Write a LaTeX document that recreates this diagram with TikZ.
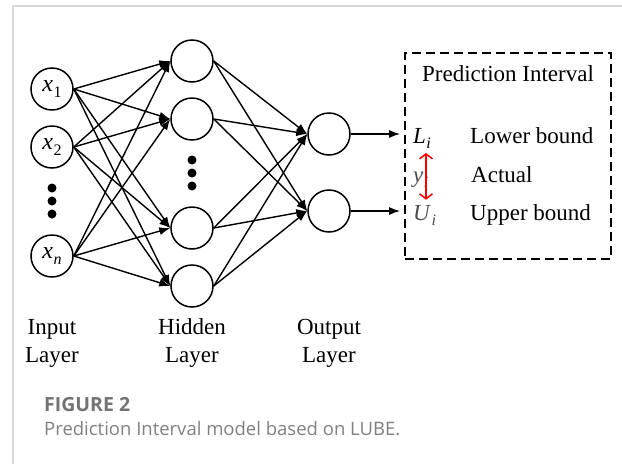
\documentclass[tikz,border=0pt]{standalone}
\usepackage{fontspec}
\setmainfont{Liberation Serif}
\newfontfamily\capfont{Open Sans}
\usetikzlibrary{arrows.meta,positioning}
\newcommand{\var}[2]{\textit{#1}\kern0.5pt\raisebox{-0.25em}{\fontsize{16}{16}\selectfont #2}}

\begin{document}
\begin{tikzpicture}[
    x=1pt, y=-1pt,
    neuron/.style={circle, draw, line width=1.5pt, minimum size=42pt, inner sep=0pt, font=\fontsize{24}{24}\selectfont},
    dotfill/.style={circle, fill, inner sep=0pt, minimum size=9pt},
    lbl/.style={align=center, font=\fontsize{23}{28}\selectfont},
    txt/.style={anchor=base west, inner sep=0pt, font=\fontsize{23}{23}\selectfont},
    link/.style={line width=1.4pt, -{Latex[length=11pt,width=8pt]}},
    bound/.style={red, line width=1.5pt, {Straight Barb[length=5pt,width=13pt]}-{Straight Barb[length=5pt,width=13pt]}}
]
\useasboundingbox (0,0) rectangle (622,464);
\draw[black!15, line width=2pt] (13,464) -- (13,6) -- (622,6);

% input layer
\node[neuron] (in1) at (52,89) {\var{x}{1}};
\node[neuron] (in2) at (52,147) {\var{x}{2}};
\node[neuron] (inn) at (52,256) {\var{x}{\textit{n}}};
\node[dotfill] (ind1) at (52,188) {};
\node[dotfill] (ind2) at (52,201) {};
\node[dotfill] (ind3) at (52,214) {};

% hidden layer
\node[neuron] (h1) at (192,61) {};
\node[neuron] (h2) at (192,119) {};
\node[neuron] (h3) at (192,228) {};
\node[neuron] (h4) at (192,286) {};
\node[dotfill] (hd1) at (192,160) {};
\node[dotfill] (hd2) at (192,173) {};
\node[dotfill] (hd3) at (192,186) {};

% output layer
\node[neuron] (out1) at (329,134) {};
\node[neuron] (out2) at (329,211) {};

\foreach \i in {in1,in2,inn}
  \foreach \h in {h1,h2,h3,h4}
    \draw[link] (\i.east) -- (\h.west);
\foreach \h in {h1,h2,h3,h4}
  \foreach \o in {out1,out2}
    \draw[link] (\h.east) -- (\o.west);

% prediction interval
\node[draw, dash pattern=on 9pt off 5pt, line width=1.8pt, minimum width=206pt, minimum height=206pt] (pibox) at (508,156) {};
\node[txt, anchor=base] (pititle) at (508,81) {Prediction Interval};
\node[txt] (Li) at (413,143) {\var{L}{\textit{i}}};
\node[txt, black!70] (yi) at (413,182) {\var{y}{\textit{i}}};
\node[txt, black!70] (Ui) at (413,220) {\var{U}{\textit{i}}};
\node[txt] (lower) at (470,143) {Lower bound};
\node[txt] (actual) at (471,182) {Actual};
\node[txt] (upper) at (470,220) {Upper bound};

\draw[link] (out1.east) -- ([xshift=-4pt]out1 -| pibox.west);
\draw[link] (out2.east) -- ([xshift=-4pt]out2 -| pibox.west);
\draw[bound] ([xshift=13pt, yshift=-4pt]Li.south west) -- ([xshift=13pt, yshift=5pt]Ui.north west);

% layer labels
\node[lbl] (inlbl) at (52,343) {Input\\Layer};
\node[lbl] (hidlbl) at (192,343) {Hidden\\Layer};
\node[lbl] (outlbl) at (329,343) {Output\\Layer};

% caption
\node[anchor=base west, inner sep=0pt, text=black!55, font=\capfont\bfseries\fontsize{19.5}{19.5}\selectfont] (fig) at (44,411.7) {FIGURE 2};
\node[anchor=base west, inner sep=0pt, text=black!50, font=\capfont\fontsize{18.5}{18.5}\selectfont] (cap) at (44,435.7) {Prediction Interval model based on LUBE.};
\end{tikzpicture}
\end{document}
